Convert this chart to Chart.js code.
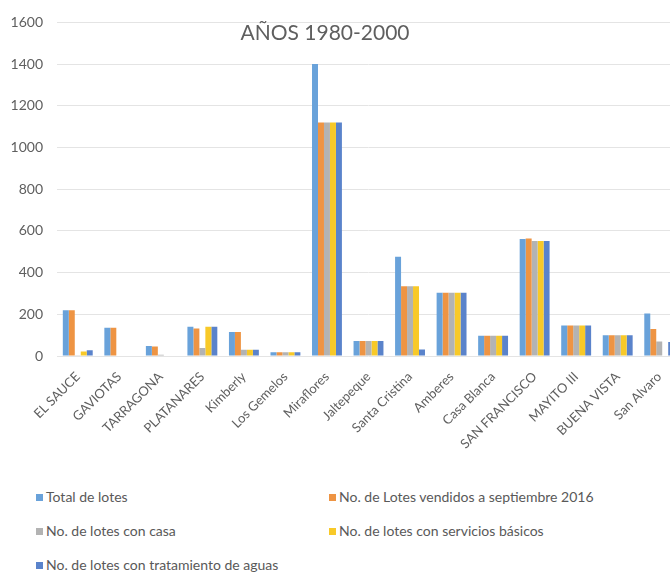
<!DOCTYPE html>
<html lang="es">
<head>
<meta charset="utf-8">
<title>Lotes por residencial</title>
<script src="https://cdn.jsdelivr.net/npm/chart.js@4.4.1/dist/chart.umd.min.js"></script>
<style>
  html, body { margin: 0; padding: 0; background: #fff; overflow: hidden; }
  #wrap { position: relative; width: 670px; height: 577px; overflow: hidden; }
  #lotes { position: absolute; left: 0; top: 0; }
  .leg { position: absolute; font: 14px Lato, sans-serif; color: #595959; white-space: nowrap; line-height: 16px; }
  .leg i { display: inline-block; width: 7px; height: 7px; margin-right: 3px; vertical-align: 1px; }
</style>
</head>
<body>
<div id="wrap">
  <canvas id="lotes" width="700" height="470"></canvas>
</div>
<script>
/* ── Datos ─────────────────────────────────────────────── */
const residenciales = [
  'EL SAUCE', 'GAVIOTAS', 'TARRAGONA', 'PLATANARES', 'Kimberly',
  'Los Gemelos', 'Miraflores', 'Jaltepeque', 'Santa Cristina', 'Amberes',
  'Casa Blanca', 'SAN FRANCISCO', 'MAYITO III', 'BUENA VISTA', 'San Alvaro',
];
const totalLotes   = [220, 135, 48, 140, 115, 18, 1400, 72, 476, 303, 97, 561, 146, 100, 204];
const vendidos2016 = [220, 135, 45, 132, 115, 18, 1120, 72, 335, 303, 97, 564, 146, 100, 129];
const conCasa      = [4, 0, 6, 38, 30, 18, 1120, 72, 335, 303, 97, 551, 146, 100, 70];
const conServicios = [22, 0, 0, 140, 30, 18, 1120, 72, 335, 303, 97, 551, 146, 100, 0];
const conTratamiento = [28, 0, 0, 140, 30, 18, 1120, 72, 31, 303, 97, 551, 146, 100, 67];
const yTicks = [0, 200, 400, 600, 800, 1000, 1200, 1400, 1600];

const series = [
  { label: 'Total de lotes', data: totalLotes, color: '#69A2DA' },
  { label: 'No. de Lotes vendidos a septiembre 2016', data: vendidos2016, color: '#EE9443' },
  { label: 'No. de lotes con casa', data: conCasa, color: '#B3B3B3' },
  { label: 'No. de lotes con servicios básicos', data: conServicios, color: '#F8C928' },
  { label: 'No. de lotes con tratamiento de aguas', data: conTratamiento, color: '#5A83CB' },
];

const GRAY = '#5f5f5f';

/* título superpuesto al área del gráfico */
const overlayTitle = {
  id: 'overlay-title',
  afterDraw(chart) {
    const { ctx } = chart;
    ctx.save();
    ctx.font = '21px Lato, sans-serif';
    ctx.fillStyle = GRAY;
    ctx.textAlign = 'center';
    ctx.textBaseline = 'middle';
    ctx.fillText('AÑOS 1980-2000', 325, 33);
    ctx.restore();
  },
};

new Chart(document.getElementById('lotes'), {
  type: 'bar',
  data: {
    labels: residenciales,
    datasets: series.map(s => ({
      label: s.label,
      data: s.data,
      backgroundColor: s.color,
      borderWidth: 0,
      barPercentage: 1,
      categoryPercentage: 0.72,
    })),
  },
  options: {
    responsive: false,
    animation: false,
    layout: { padding: { top: 15, right: 20, bottom: 0, left: 0 } },
    plugins: {
      legend: { display: false },
      title: { display: false },
      tooltip: { enabled: false },
    },
    scales: {
      x: {
        grid: { display: false },
        border: { display: false },
        ticks: {
          color: GRAY,
          font: { family: 'Lato', size: 13 },
          minRotation: 45,
          maxRotation: 45,
          autoSkip: false,
          padding: 5,
        },
        afterFit: scale => { scale.height = 114; },
      },
      y: {
        min: 0,
        max: 1600,
        afterBuildTicks: scale => { scale.ticks = yTicks.map(v => ({ value: v })); },
        grid: { color: '#e4e4e4', drawTicks: false },
        border: { display: false },
        ticks: {
          color: GRAY,
          font: { family: 'Lato', size: 14 },
          padding: 14,
          callback: v => String(v),
        },
        afterFit: scale => { scale.width = 57; },
      },
    },
  },
  plugins: [overlayTitle],
});

/* leyenda en dos columnas */
const wrap = document.getElementById('wrap');
const legPos = [[36, 489], [329, 489], [36, 523], [329, 523], [36, 557]];
series.forEach((s, i) => {
  const el = document.createElement('div');
  el.className = 'leg';
  el.style.left = legPos[i][0] + 'px';
  el.style.top = legPos[i][1] + 'px';
  el.innerHTML = `<i style="background:${s.color}"></i>${s.label}`;
  wrap.appendChild(el);
});
</script>
</body>
</html>
